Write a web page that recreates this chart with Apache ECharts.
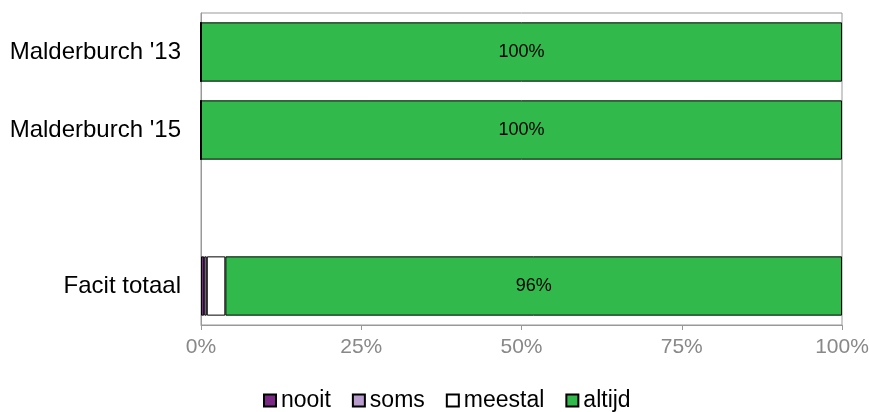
<!DOCTYPE html>
<html><head><meta charset="utf-8">
<script src="https://cdn.jsdelivr.net/npm/echarts@6/dist/echarts.min.js"></script>
<style>html,body{margin:0;padding:0;background:#fff}#c{width:869px;height:412px}</style>
</head><body><div id="c"></div>
<script>
const categories = ["Malderburch '13", "Malderburch '15", "", "Facit totaal"];
const nooit = [0, 0, null, 0.5];
const soms = [0, 0, null, 0.4];
const meestal = [0, 0, null, 2.9];
const altijd = [100, 100, null, 96.2];
const altijdLabels = ["100%", "100%", "", "96%"];
const xTicks = ["0%", "25%", "50%", "75%", "100%"];

const chart = echarts.init(document.getElementById('c'));
const base = {type: 'bar', stack: 'a', barCategoryGap: '24%'};
chart.setOption({
  animation: false,
  textStyle: {fontFamily: 'Liberation Sans, Arial, sans-serif'},
  grid: {left: 201, right: 27, top: 13, bottom: 87, containLabel: false, outerBoundsMode: 'none',
    show: true, borderColor: '#999', borderWidth: 1},
  legend: {
    top: 384, left: 258, itemWidth: 12, itemHeight: 12, itemGap: 21,
    textStyle: {fontSize: 23, color: '#000'},
    data: ['nooit', 'soms', 'meestal', 'altijd'],
    icon: 'rect'
  },
  xAxis: {
    type: 'value', min: 0, max: 100, interval: 25,
    axisLine: {show: true, lineStyle: {color: '#999'}},
    axisTick: {show: true, length: 5, lineStyle: {color: '#999'}},
    splitLine: {show: false},
    axisLabel: {formatter: v => xTicks[v / 25], fontSize: 21, color: '#888', margin: 12}
  },
  yAxis: {
    type: 'category', data: categories, inverse: true,
    axisLine: {show: true, lineStyle: {color: '#999'}},
    axisTick: {show: false},
    axisLabel: {fontSize: 24, color: '#000', margin: 20}
  },
  series: [
    Object.assign({}, base, {name: 'nooit', data: nooit, itemStyle: {color: '#7a2a84', borderColor: '#000', borderWidth: 1}}),
    Object.assign({}, base, {name: 'soms', data: soms, itemStyle: {color: '#b79ccd', borderColor: '#000', borderWidth: 1}}),
    Object.assign({}, base, {name: 'meestal', data: meestal, itemStyle: {color: '#ffffff', borderColor: '#000', borderWidth: 1}}),
    Object.assign({}, base, {name: 'altijd', data: altijd, itemStyle: {color: '#31b94b', borderColor: '#000', borderWidth: 1},
      label: {show: true, position: 'inside', color: '#000', fontSize: 18,
        formatter: p => altijdLabels[p.dataIndex]}})
  ]
});
</script></body></html>
